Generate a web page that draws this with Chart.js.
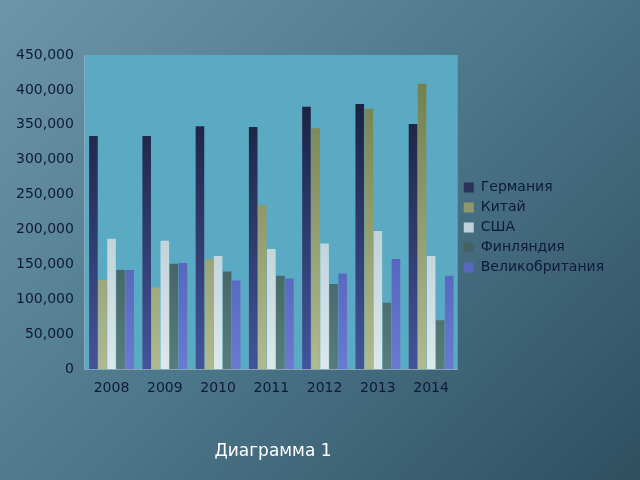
<!DOCTYPE html>
<html>
<head>
<meta charset="utf-8">
<script src="https://cdn.jsdelivr.net/npm/chart.js@4"></script>
<style>
  html, body { margin: 0; padding: 0; }
  body {
    width: 640px; height: 480px; overflow: hidden; position: relative;
    background: linear-gradient(135deg, #6d95a8 0%, #4f7a8e 45%, #2f4f60 100%);
    font-family: "DejaVu Sans", sans-serif;
  }
  #wrap { position: absolute; left: 0; top: 0; width: 640px; height: 480px; }
  #caption {
    position: absolute; left: 208px; top: 440px; width: 130px;
    text-align: center; color: #ffffff; font-size: 17px; line-height: 20px;
  }
</style>
</head>
<body>
<div id="wrap"><canvas id="chart" width="640" height="480"></canvas></div>
<div id="caption">Диаграмма 1</div>
<script>
const years = ['2008', '2009', '2010', '2011', '2012', '2013', '2014'];
const germany = [334000, 334000, 348000, 347000, 376000, 380000, 351000];
const china   = [128000, 117000, 158000, 235000, 345000, 373000, 409000];
const usa     = [187000, 184000, 162000, 172000, 180000, 198000, 162000];
const finland = [142000, 151000, 140000, 134000, 122000,  95000,  70000];
const uk      = [142000, 152000, 127000, 130000, 137000, 158000, 134000];

function grad(top, bottom) {
    return function (ctx) {
        var area = ctx.chart.chartArea;
        if (!area) return bottom;
        var g = ctx.chart.ctx.createLinearGradient(0, area.top, 0, area.bottom);
        g.addColorStop(0, top);
        g.addColorStop(1, bottom);
        return g;
    };
}

var plotBg = {
    id: 'plotBg',
    beforeDraw: function (chart) {
        var a = chart.chartArea, c = chart.ctx;
        c.save();
        c.fillStyle = '#5aaac4';
        c.fillRect(a.left, a.top, a.right - a.left, a.bottom - a.top);
        c.restore();
    }
};

var chart = new Chart(document.getElementById('chart'), {
    type: 'bar',
    data: {
        labels: years,
        datasets: [
            { label: 'Германия', data: germany, backgroundColor: grad('#141a30', '#44549a') },
            { label: 'Китай', data: china, backgroundColor: grad('#6f7a48', '#b0ba90') },
            { label: 'США', data: usa, backgroundColor: grad('#98b8c2', '#dce8ec') },
            { label: 'Финляндия', data: finland, backgroundColor: grad('#223c3c', '#587c7c') },
            { label: 'Великобритания', data: uk, backgroundColor: grad('#34429a', '#6a7ad0') }
        ]
    },
    options: {
        responsive: false,
        animation: false,
        layout: { padding: { left: 13, top: 55, right: 34, bottom: 80 } },
        datasets: { bar: { categoryPercentage: 0.85, barPercentage: 0.95 } },
        plugins: {
            legend: {
                position: 'right',
                labels: { color: '#0e1a3a', font: { size: 14, family: 'DejaVu Sans' }, boxWidth: 10, boxHeight: 10, padding: 6 }
            },
            tooltip: { enabled: false }
        },
        scales: {
            x: {
                grid: { display: false },
                border: { color: '#8aa8b8' },
                ticks: { color: '#0e1a3a', font: { size: 14, family: 'DejaVu Sans' } }
            },
            y: {
                min: 0, max: 450000,
                ticks: {
                    stepSize: 50000, color: '#0e1a3a', font: { size: 14, family: 'DejaVu Sans' },
                    callback: function (v) { return v === 0 ? '0' : v.toLocaleString('en-US'); }
                },
                grid: { display: false },
                border: { color: '#8aa8b8' }
            }
        }
    },
    plugins: [plotBg]
});
chart.update();
</script>
</body>
</html>
